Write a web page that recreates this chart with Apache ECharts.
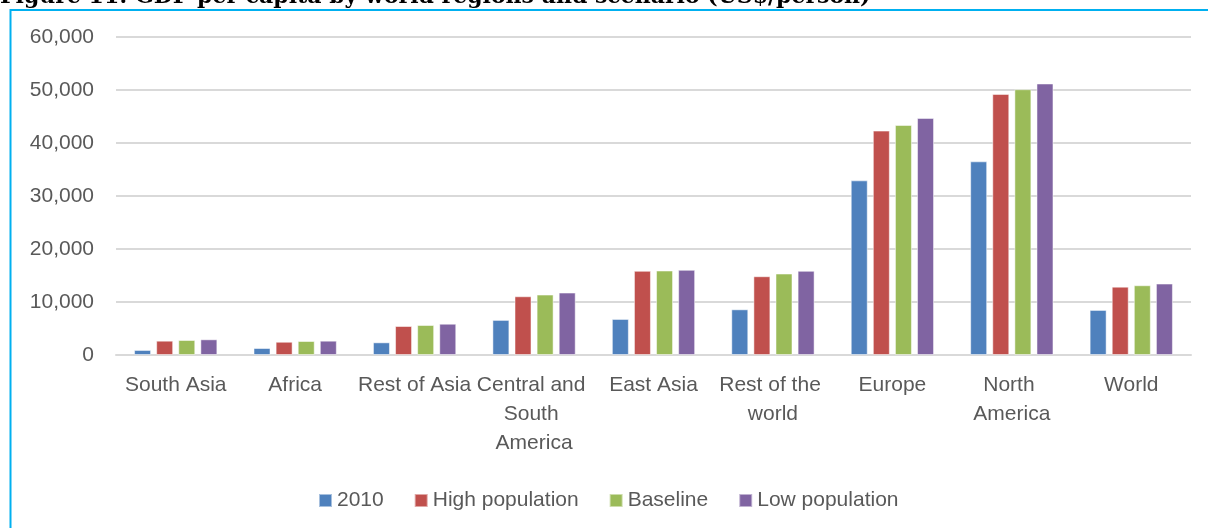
<!DOCTYPE html>
<html>
<head>
<meta charset="utf-8">
<style>
  html, body { margin: 0; padding: 0; background: #ffffff; }
  #chart { width: 1208px; height: 528px; }
</style>
<script src="https://cdn.jsdelivr.net/npm/echarts@6/dist/echarts.min.js"></script>
</head>
<body>
<div id="chart"></div>
<script>
// GDP per capita (US$/person) by world region and population scenario
const regions = ['South Asia', 'Africa', 'Rest of Asia', 'Central and South America', 'East Asia',
                 'Rest of the world', 'Europe', 'North America', 'World'];
const seriesNames = ['2010', 'High population', 'Baseline', 'Low population'];
const gdp2010      = [950, 1320, 2390, 6620, 6800, 8620, 32950, 36540, 8500];
const gdpHighPop   = [2700, 2500, 5470, 11080, 15880, 14860, 42340, 49260, 12900];
const gdpBaseline  = [2830, 2640, 5660, 11400, 15940, 15370, 43400, 50150, 13160];
const gdpLowPop    = [2960, 2700, 5900, 11780, 16070, 15880, 44730, 51230, 13480];
const yTicks = { min: 0, max: 60000, interval: 10000 };

const colors = ['#4F81BD', '#C0504D', '#9BBB59', '#8064A2'];
const values = [gdp2010, gdpHighPop, gdpBaseline, gdpLowPop];
const labelFont = '"Liberation Sans", Arial, sans-serif';

const chart = echarts.init(document.getElementById('chart'), null, { renderer: 'canvas' });

chart.setOption({
  animation: false,
  backgroundColor: '#ffffff',
  title: {
    text: 'Figure 11: GDP per capita by world regions and scenario (US$/person)',
    left: 0,
    top: -14,
    padding: 0,
    textStyle: {
      fontFamily: '"DejaVu Serif", "Liberation Serif", serif',
      fontWeight: 'bold',
      fontSize: 22,
      color: '#000000'
    }
  },
  graphic: [{
    type: 'rect',
    shape: { x: 10.5, y: 10, width: 1260, height: 600 },
    style: { fill: 'none', stroke: '#00B0F0', lineWidth: 2 },
    silent: true,
    z: 0
  }],
  color: colors,
  legend: {
    data: seriesNames,
    left: 313,
    top: 485,
    itemWidth: 13,
    itemHeight: 13,
    itemGap: 30,
    icon: 'rect',
    textStyle: { fontFamily: labelFont, fontSize: 21, color: '#595959' }
  },
  grid: { left: 116, right: 17, top: 37, bottom: 173, containLabel: false },
  xAxis: {
    type: 'category',
    data: regions,
    axisTick: { show: false },
    axisLine: { lineStyle: { color: '#D9D9D9', width: 2 } },
    axisLabel: {
      interval: 0,
      margin: 16,
      width: 119,
      overflow: 'break',
      lineHeight: 29,
      fontFamily: labelFont,
      fontSize: 21,
      color: '#595959'
    }
  },
  yAxis: {
    type: 'value',
    min: yTicks.min,
    max: yTicks.max,
    interval: yTicks.interval,
    axisLine: { show: false },
    axisTick: { show: false },
    splitLine: { lineStyle: { color: '#D9D9D9', width: 2 } },
    axisLabel: {
      margin: 22,
      fontFamily: labelFont,
      fontSize: 21,
      color: '#595959',
      formatter: v => v.toLocaleString('en-US')
    }
  },
  series: seriesNames.map((name, i) => ({
    name,
    type: 'bar',
    data: values[i],
    barWidth: 17,
    barGap: '30%',
    itemStyle: { color: colors[i], borderColor: 'rgba(255,255,255,0.5)', borderWidth: 1 }
  }))
});
</script>
</body>
</html>
